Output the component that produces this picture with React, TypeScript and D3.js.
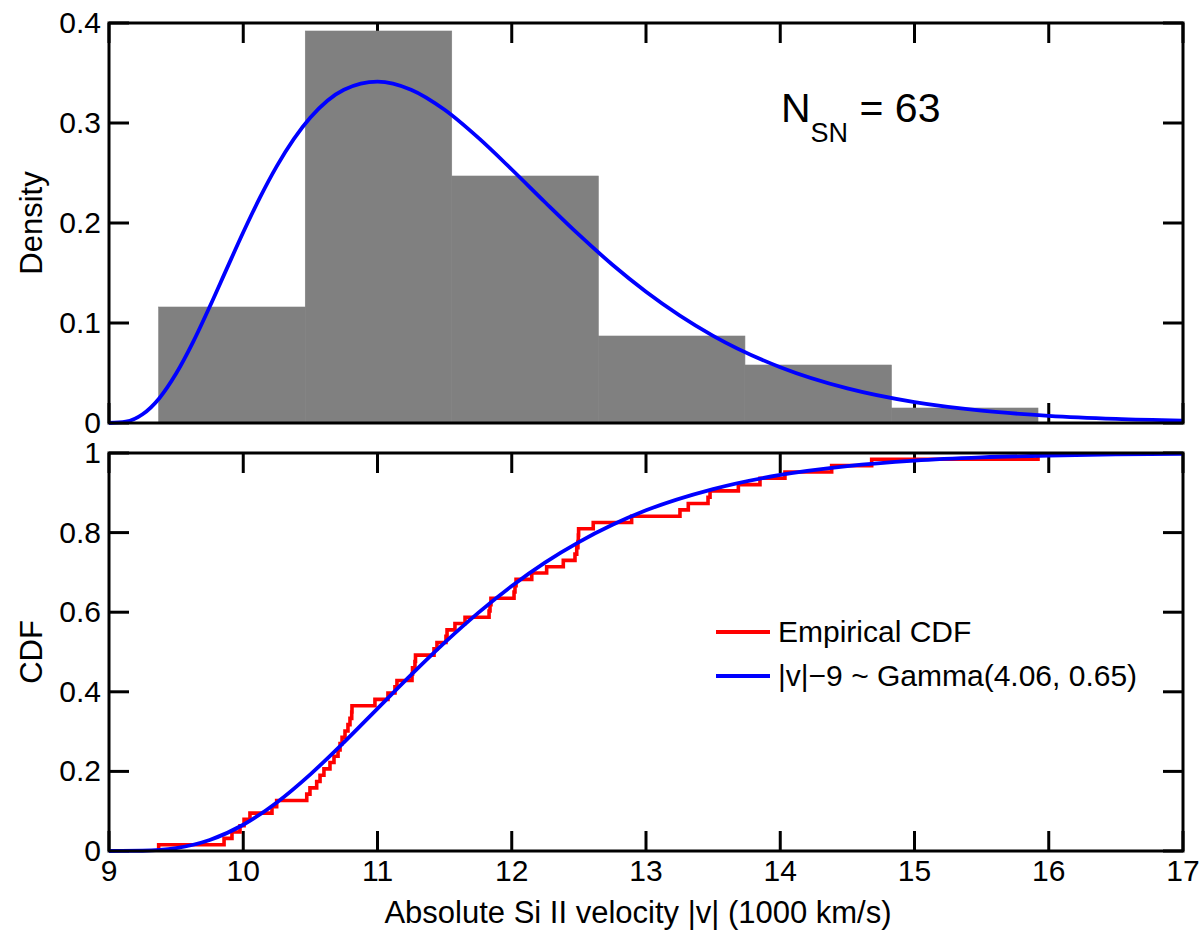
import * as d3 from 'd3'

// sorted |v| values (1000 km/s)
const V_SORTED = [
  9.37, 9.857, 9.916, 9.976, 10.006, 10.05, 10.214, 10.249,
  10.473, 10.497, 10.547, 10.572, 10.601, 10.646, 10.676, 10.706, 10.721, 10.736,
  10.758, 10.78, 10.795, 10.808, 10.81, 10.981, 11.078, 11.13, 11.145, 11.257,
  11.261, 11.279, 11.283, 11.421, 11.443, 11.51, 11.518,
  11.577, 11.652, 11.831, 11.838, 11.845, 12.017, 12.024, 12.032, 12.149,
  12.26, 12.384, 12.471, 12.484, 12.493, 12.496, 12.498, 12.607,
  12.893, 13.253, 13.315, 13.462, 13.477, 13.688,
  13.849, 14.035, 14.383, 14.681,
  15.92,
]

// histogram (density normalisation)
const BIN_EDGES = [9.37, 10.462, 11.553, 12.645, 13.737, 14.828, 15.92]
const BIN_DENSITY = [0.116, 0.392, 0.247, 0.087, 0.058, 0.015]

// fitted gamma curve
const PDF_V = [9, 9.125, 9.25, 9.375, 9.5, 9.625, 9.75, 9.875, 10, 10.125, 10.25, 10.5, 10.75, 11, 11.25, 11.5, 11.75, 12, 12.25, 12.5, 12.75, 13, 13.5, 14, 14.5, 15, 15.5, 16, 16.5, 17]
const PDF_Y = [0, 0.0013, 0.0087, 0.0248, 0.0494, 0.0806, 0.1162, 0.1536, 0.1907, 0.2256, 0.2569, 0.3055, 0.3333, 0.3414, 0.3333, 0.3132, 0.2853, 0.2535, 0.2205, 0.1883, 0.1583, 0.1313, 0.0872, 0.0558, 0.0346, 0.0209, 0.0124, 0.0072, 0.0041, 0.0023]

const CDF_V = [9, 9.25, 9.5, 9.75, 10, 10.25, 10.5, 10.75, 11, 11.25, 11.5, 11.75, 12, 12.25, 12.5, 12.75, 13, 13.5, 14, 14.5, 15, 15.5, 16, 16.5, 17]
const CDF_Y = [0, 0.0006, 0.0071, 0.0275, 0.0659, 0.1221, 0.1927, 0.273, 0.3578, 0.4425, 0.5235, 0.5983, 0.6658, 0.7252, 0.7762, 0.8195, 0.856, 0.9094, 0.9449, 0.9671, 0.9808, 0.9889, 0.9937, 0.9965, 0.998]

const LEGEND = [
  { label: 'Empirical CDF', color: '#ff0000' },
  { label: '|v|\u22129 ~ Gamma(4.06, 0.65)', color: '#0000ff' },
]

const FONT = '"Liberation Sans", Arial, Helvetica, sans-serif'
const W = 1203
const H = 930
const left = 109
const right = 1183
const top1 = 23, bot1 = 423
const top2 = 453, bot2 = 851
const TICK = 20

const fmt = (t: number) => String(+t.toFixed(2))

function Frame({ y, yTicks, x0, x1, y0, y1 }: any) {
  const x = d3.scaleLinear().domain([9, 17]).range([x0, x1])
  return (
    <g stroke="#000" strokeWidth={3}>
      {x.ticks(8).map(t => (
        <g key={'x' + t}>
          <line x1={x(t)} x2={x(t)} y1={y1} y2={y1 - TICK} />
          <line x1={x(t)} x2={x(t)} y1={y0} y2={y0 + TICK} />
        </g>
      ))}
      {yTicks.map((t: number) => (
        <g key={'y' + t}>
          <line x1={x0} x2={x0 + TICK} y1={y(t)} y2={y(t)} />
          <line x1={x1} x2={x1 - TICK} y1={y(t)} y2={y(t)} />
        </g>
      ))}
    </g>
  )
}

export default function App() {
  const x = d3.scaleLinear().domain([9, 17]).range([left, right])
  const yDen = d3.scaleLinear().domain([0, 0.4]).range([bot1, top1])
  const yCdf = d3.scaleLinear().domain([0, 1]).range([bot2, top2])

  const pdfLine = d3.line<number>()
    .x((_, i) => x(PDF_V[i]))
    .y(d => yDen(d))
    .curve(d3.curveMonotoneX)
  const cdfLine = d3.line<number>()
    .x((_, i) => x(CDF_V[i]))
    .y(d => yCdf(d))
    .curve(d3.curveMonotoneX)

  const n = V_SORTED.length
  const steps: [number, number][] = [[V_SORTED[0], 0], ...V_SORTED.map((v, i) => [v, (i + 1) / n] as [number, number])]
  const ecdfLine = d3.line<[number, number]>()
    .x(d => x(d[0]))
    .y(d => yCdf(d[1]))
    .curve(d3.curveStepAfter)

  const denTicks = yDen.ticks(4)
  const cdfTicks = yCdf.ticks(5)

  return (
    <svg width={W} height={H} style={{ position: 'absolute', left: 0, top: 0, background: '#fff' }} fontFamily={FONT}>
      {/* top panel */}
      <Frame y={yDen} yTicks={denTicks} x0={left} x1={right} y0={top1} y1={bot1} />
      {BIN_DENSITY.map((d, i) => (
        <rect key={i} x={x(BIN_EDGES[i])} width={x(BIN_EDGES[i + 1]) - x(BIN_EDGES[i])}
          y={yDen(d)} height={yDen(0) - yDen(d)} fill="#808080" stroke="#808080" strokeWidth={0.6} />
      ))}
      <path d={pdfLine(PDF_Y) || ''} fill="none" stroke="#0000ff" strokeWidth={3.8} />
      <rect x={left} y={top1} width={right - left} height={bot1 - top1} fill="none" stroke="#000" strokeWidth={3} />
      {denTicks.map(t => (
        <text key={t} x={left - 8} y={yDen(t) + 10} fontSize={30} textAnchor="end">{fmt(t)}</text>
      ))}
      <text transform={`translate(42,${(top1 + bot1) / 2}) rotate(-90)`} fontSize={31} textAnchor="middle">Density</text>
      <text x={781} y={122} fontSize={41}>
        N<tspan dy={20} fontSize={27}>SN</tspan><tspan dy={-20} fontSize={41}> = 63</tspan>
      </text>

      {/* bottom panel */}
      <Frame y={yCdf} yTicks={cdfTicks} x0={left} x1={right} y0={top2} y1={bot2} />
      <path d={ecdfLine(steps) || ''} fill="none" stroke="#ff0000" strokeWidth={3.6} />
      <path d={cdfLine(CDF_Y) || ''} fill="none" stroke="#0000ff" strokeWidth={3.8} />
      <rect x={left} y={top2} width={right - left} height={bot2 - top2} fill="none" stroke="#000" strokeWidth={3} />
      {cdfTicks.map(t => (
        <text key={t} x={left - 8} y={yCdf(t) + 10} fontSize={30} textAnchor="end">{fmt(t)}</text>
      ))}
      {x.ticks(8).map(t => (
        <text key={t} x={x(t)} y={bot2 + 30} fontSize={30} textAnchor="middle">{t}</text>
      ))}
      <text transform={`translate(42,${(top2 + bot2) / 2}) rotate(-90)`} fontSize={31} textAnchor="middle">CDF</text>
      <text x={638} y={923} fontSize={31} textAnchor="middle">Absolute Si II velocity |v| (1000 km/s)</text>

      {LEGEND.map((l, i) => (
        <g key={l.label} transform={`translate(716,${632 + i * 44})`}>
          <line x1={0} x2={54} y1={0} y2={0} stroke={l.color} strokeWidth={3.8} />
          <text x={62} y={10} fontSize={30}>{l.label}</text>
        </g>
      ))}
    </svg>
  )
}
